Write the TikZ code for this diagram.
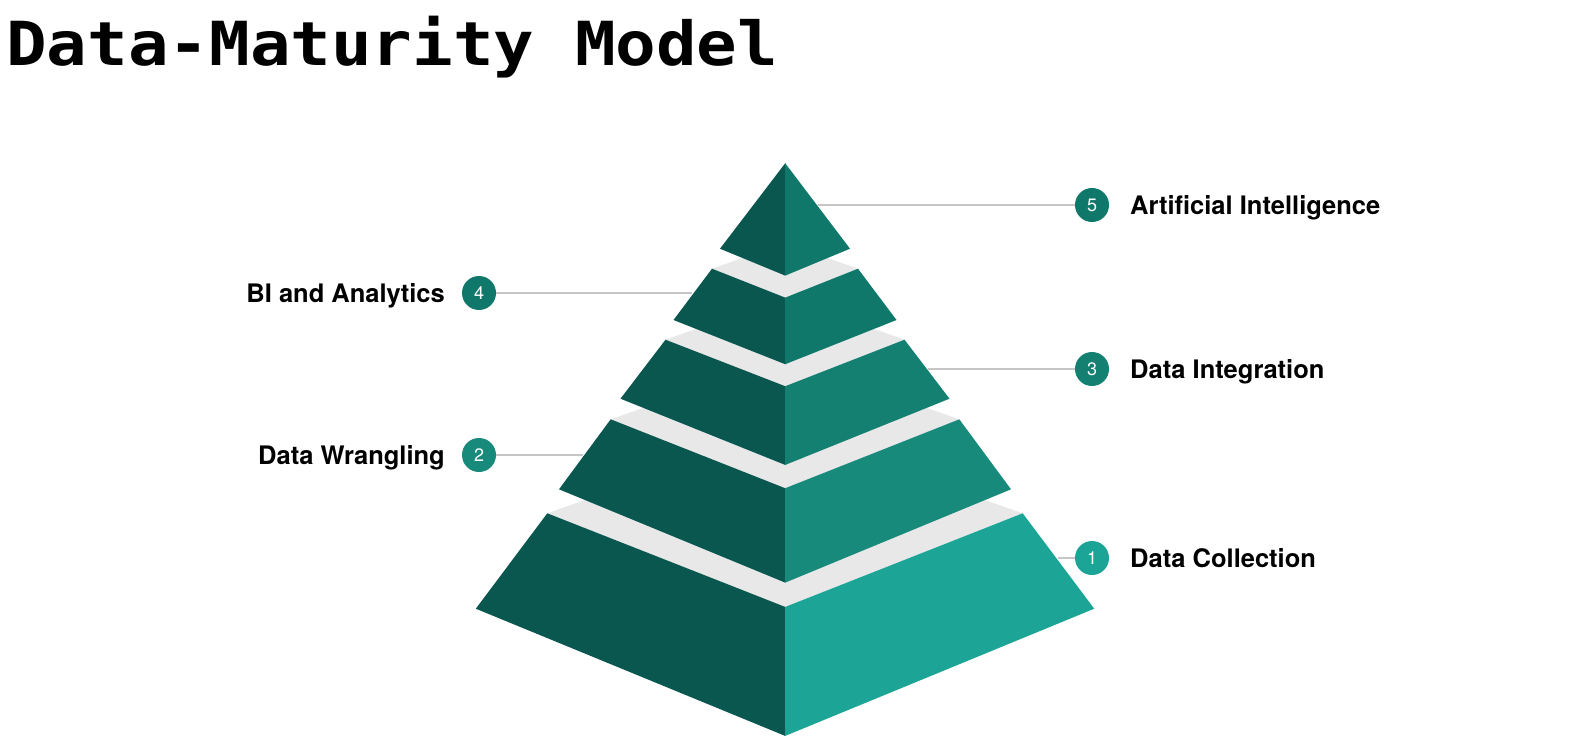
\documentclass[tikz,border=0pt]{standalone}
\usepackage{fontspec}
\setmainfont{TeX Gyre Heros}
\newfontfamily\titlefont{DejaVu Sans Mono}

\definecolor{faceL}{HTML}{0A574F}
\definecolor{faceA}{HTML}{1CA596}
\definecolor{faceB}{HTML}{178A7C}
\definecolor{faceC}{HTML}{138072}
\definecolor{faceD}{HTML}{0F786A}
\definecolor{faceE}{HTML}{0F786A}
\definecolor{topgray}{HTML}{E8E8E8}
\definecolor{leader}{HTML}{C6C6C6}

% one tier: top y, top half width, top front y, bottom y, bottom half width, bottom front y, right colour
\newcommand\pyrtier[7]{%
  \fill[topgray] ({785-#2},#1) -- (785,#3) -- ({785+#2},#1) -- (785,{#1-0.35*#2}) -- cycle;
  \fill[faceL] ({785-#2},#1) -- (785.4,#3) -- (785.4,#6) -- ({785-#5},#4) -- cycle;
  \fill[#7] ({785+#2},#1) -- (785,#3) -- (785,#6) -- ({785+#5},#4) -- cycle;
}

\begin{document}
\begin{tikzpicture}[x=1pt,y=-1pt,
  badge/.style={circle,inner sep=0pt,minimum size=34pt,text=white,font=\fontsize{18}{18}\selectfont},
  rlabel/.style={anchor=base west,inner sep=0pt,font=\fontsize{25.5}{26}\selectfont\bfseries},
  llabel/.style={anchor=base east,inner sep=0pt,font=\fontsize{25.5}{26}\selectfont\bfseries},
  leaderline/.style={draw=leader,line width=1.3pt}]
\useasboundingbox (0,0) rectangle (1582,738);
\fill[white] (0,0) rectangle (1582,738);

% title
\node[anchor=base west,inner sep=0pt,yscale=0.9,transform shape,
  font=\titlefont\fontsize{67.5}{68}\selectfont\bfseries] (title) at (6,66) {Data-Maturity Model};

% badges
\node[badge,fill=faceE] (c5) at (1092,205) {5};
\node[badge,fill=faceD] (c4) at (479,293) {4};
\node[badge,fill=faceC] (c3) at (1092,369) {3};
\node[badge,fill=faceB] (c2) at (479,455) {2};
\node[badge,fill=faceA] (c1) at (1092,558) {1};

% where the leader lines meet the pyramid
\coordinate (e5) at (818,205);
\coordinate (e4) at (692,293);
\coordinate (e3) at (928,369);
\coordinate (e2) at (583,455);
\coordinate (e1) at (1058,558);

\draw[leaderline] (c5) -- (e5);
\draw[leaderline] (c4) -- (e4);
\draw[leaderline] (c3) -- (e3);
\draw[leaderline] (c2) -- (e2);
\draw[leaderline] (c1) -- (e1);

% pyramid, bottom tier first
\pyrtier{513.3}{237.7}{607}{608.7}{309.2}{736}{faceA}
\pyrtier{419.3}{174.3}{488.3}{489.3}{226}{582.7}{faceB}
\pyrtier{339.7}{119.5}{386.3}{398.7}{164.5}{465}{faceC}
\pyrtier{268.7}{73}{297.7}{320}{111.5}{364.3}{faceD}
\fill[faceL] (785.4,163) -- (785.4,275.7) -- (720,248.7) -- cycle;
\fill[faceE] (785,163) -- (785,275.7) -- (850,248.7) -- cycle;

% labels
\node[rlabel] (l5) at (1130,214.2) {Artificial Intelligence};
\node[llabel] (l4) at (445,302.2) {BI and Analytics};
\node[rlabel] (l3) at (1130,378.2) {Data Integration};
\node[llabel] (l2) at (445,464.2) {Data Wrangling};
\node[rlabel] (l1) at (1130,567.2) {Data Collection};
\end{tikzpicture}
\end{document}
